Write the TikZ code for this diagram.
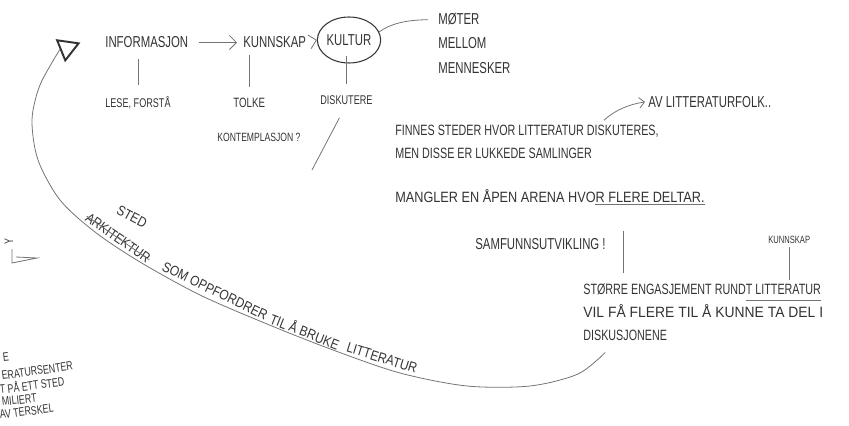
\documentclass[tikz,border=0pt]{standalone}
\usepackage{fontspec}
\usepackage{amsmath}
\usetikzlibrary{shapes.geometric,arrows.meta}
\newfontfamily\hand[FakeStretch=0.72]{Liberation Sans}
\newfontfamily\handwide[FakeStretch=0.85]{Liberation Sans}
\newfontfamily\handxw[FakeStretch=0.93]{Liberation Sans}
\definecolor{ink}{gray}{0.2}
\definecolor{pencil}{gray}{0.45}
\tikzset{
  word/.style={anchor=base west, inner sep=0pt, text=ink, font=\hand\fontsize{9}{10}\selectfont},
  note/.style={word, font=\hand\fontsize{7.2}{8}\selectfont},
  pen/.style={draw=pencil, line width=0.45pt},
}

\begin{document}
\begin{tikzpicture}[x=0.02cm,y=-0.02cm]
   \useasboundingbox (0,0) rectangle (849,426);
   \clip (0,0) rectangle (849,426);
   \begin{scope}[every node/.style={word}]
    \node (info) at (105,48) {INFORMASJON};
    \node (kunn) at (243,48) {KUNNSKAP};
    \node (moter) at (438,25) {MØTER};
    \node (mellom) at (438,49) {MELLOM};
    \node (menn) at (438,73) {MENNESKER};
    \node (av) at (648,107) {AV LITTERATURFOLK..};
    \node[font=\hand\fontsize{8.5}{9}\selectfont] (finnes) at (395,135) {FINNES STEDER HVOR LITTERATUR DISKUTERES,};
    \node[font=\hand\fontsize{8.5}{9}\selectfont] (men) at (395,158) {MEN DISSE ER LUKKEDE SAMLINGER};
    \node[font=\handwide\fontsize{8.5}{9}\selectfont] (mangler) at (395,202) {MANGLER EN ÅPEN ARENA HVOR FLERE DELTAR.};
    \node (samf) at (475,249) {SAMFUNNSUTVIKLING !};
    \node[font=\hand\fontsize{8.5}{9}\selectfont] (storre) at (583,294) {STØRRE ENGASJEMENT RUNDT LITTERATUR};
    \node[font=\handxw\fontsize{8.5}{9}\selectfont] (vil) at (583,317) {VIL FÅ FLERE TIL Å KUNNE TA DEL I};
    \node[font=\hand\fontsize{8.5}{9}\selectfont] (dis) at (583,340) {DISKUSJONENE};
   \end{scope}
   \begin{scope}[every node/.style={note}]
    \node (lese) at (105,107) {LESE, FORSTÅ};
    \node[font=\hand\fontsize{7.7}{8}\selectfont] (tolke) at (233,107) {TOLKE};
    \node (disk) at (320,104) {DISKUTERE};
    \node[font=\hand\fontsize{6.8}{8}\selectfont] (kont) at (217,141) {KONTEMPLASJON ?};
    \node[font=\hand\fontsize{6}{7}\selectfont] (knsk) at (768,243) {KUNNSKAP};
   \end{scope}
   \node[draw=ink, line width=0.6pt, ellipse, minimum width=1.26cm, minimum height=0.92cm,
         inner sep=0pt, text=ink, font=\hand\fontsize{9}{10}\selectfont] (kultur) at (349,40) {KULTUR};
   \node[draw=ink, line width=1.1pt, regular polygon, regular polygon sides=3, minimum size=0.5cm,
         inner sep=0pt, shape border rotate=180, rotate=-8] (tri) at (67,48) {};
   \begin{scope}[every node/.style={note, anchor=center, font=\handwide\fontsize{8}{9}\selectfont}]
    \node[rotate=-28] (sted) at (132,217) {STED};
    \node[rotate=-35] (ark) at (118,238) {ARKITEKTUR};
    \node[rotate=-25.7] (som) at (215,291) {SOM OPPFORDRER};
    \node[rotate=-21.4] (til) at (305,331) {TIL Å BRUKE};
    \node[rotate=-17.4] (litt) at (382,358) {LITTERATUR};
   \end{scope}
   \begin{scope}[every node/.style={note, font=\hand\fontsize{7}{8}\selectfont}]
    \node[rotate=90, anchor=center] (bit) at (9,242) {Y};
    \node[rotate=6] (ebit) at (3,362) {E};
    \node[rotate=8] (sentr) at (2,380) {ERATURSENTER};
    \node[rotate=7] (ett) at (0,394) {T PÅ ETT STED};
    \node[rotate=6] (mil) at (2,406) {MILIERT};
    \node[rotate=7] (tersk) at (0,419) {AV TERSKEL};
   \end{scope}
   \coordinate (slash) at (312,170);
   \begin{scope}[every path/.style={pen}]
    \draw[-{Straight Barb[length=4pt]}, shorten <=0.2cm, shorten >=0.12cm] (info.east) -- (kunn.west);
    \draw[-{Straight Barb[length=4pt]}, shorten <=0.2cm] (kunn.east) -- (kultur.west);
    \draw[shorten >=0.2cm] (kultur.15) .. controls (390,24) and (405,20) .. (moter.west);
    \draw[shorten <=0.22cm, shorten >=0.2cm] (lese.north) -- (lese.north |- info.south);
    \draw[shorten <=0.2cm, shorten >=0.12cm] (tolke.north) -- (tolke.north |- kunn.south);
    \draw[shorten <=0.22cm, shorten >=-0.15cm] (disk.north) -- (disk.north |- kultur.south);
    \draw[shorten <=0.3cm] (disk.south) -- (slash);
    \draw[-{Straight Barb[length=3pt]}, shorten >=0.06cm] ([xshift=-1.1cm,yshift=0.08cm]finnes.north east) .. controls (615,110) and (630,104) .. (av.west);
    \draw ([xshift=-2.2cm,yshift=-0.18cm]mangler.east) -- ([yshift=-0.18cm]mangler.east);
    \draw ([xshift=0.8cm,yshift=0.2cm]storre.north west) -- ++(0,-42);
    \draw[shorten <=0.08cm, shorten >=0.06cm] (knsk.south) -- (knsk.south |- storre.north);
    \draw ([xshift=-1.5cm,yshift=-0.12cm]storre.south east) -- ([yshift=-0.12cm]storre.south east);
    \draw (ark.west) -- (ark.east);
    \draw (12,249) -- (12,263) -- (37,258) -- (16,257);
    \draw plot[smooth] coordinates {([xshift=-0.4cm,yshift=-0.24cm]dis.south) (578,374) (530,386) (467,386)
      (400,373) (333,350) (267,324) (200,295) (140,262) (95,232) (60,200) (38,160) (32,120) (40,85) (tri.200)};
   \end{scope}
\end{tikzpicture}
\end{document}
